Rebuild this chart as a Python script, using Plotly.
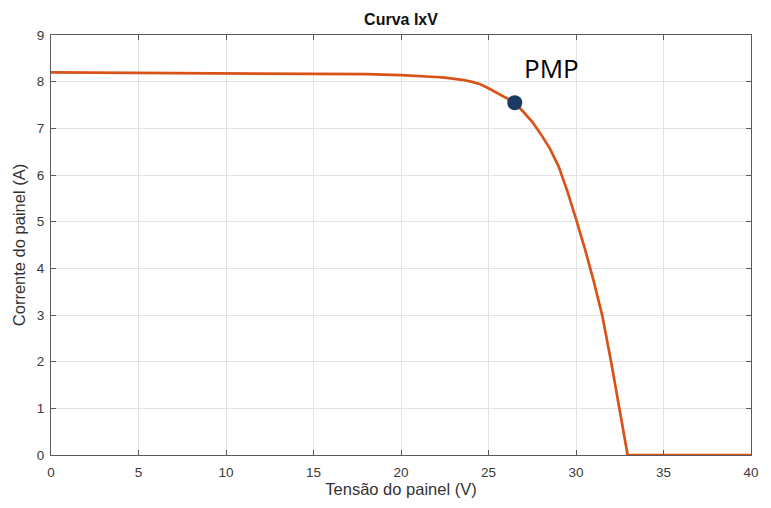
import plotly.graph_objects as go

voltage = [0, 5, 10, 15, 18, 20, 21, 22, 22.5, 23, 23.5, 24, 24.5, 25, 25.5, 26, 26.5, 27,
           27.5, 28, 28.5, 29, 29.5, 30, 30.5, 31, 31.5, 32, 32.5, 32.95, 35, 40]
current = [8.20, 8.19, 8.18, 8.17, 8.16, 8.14, 8.125, 8.10, 8.085, 8.065, 8.04, 8.00, 7.95,
           7.86, 7.76, 7.66, 7.55, 7.35, 7.14, 6.87, 6.57, 6.19, 5.66, 5.06, 4.43, 3.74,
           2.99, 2.01, 0.96, 0, 0, 0]
pmp_v = [26.5]
pmp_i = [7.55]
pmp_label = "PMP"

x_ticks = [0, 5, 10, 15, 20, 25, 30, 35, 40]
y_ticks = [0, 1, 2, 3, 4, 5, 6, 7, 8, 9]

fig = go.Figure()
fig.add_trace(go.Scatter(x=voltage, y=current, mode="lines",
                         line=dict(color="#D95319", width=2.7), showlegend=False,
                         hoverinfo="skip"))
fig.add_trace(go.Scatter(x=pmp_v, y=pmp_i, mode="markers",
                         marker=dict(color="#1B3A63", size=15), showlegend=False))
fig.add_annotation(x=pmp_v[0], y=pmp_i[0], text=pmp_label, showarrow=False,
                   xanchor="left", yanchor="bottom", xshift=7, yshift=15,
                   font=dict(family="Open Sans", size=26, color="#000000"))

axis_common = dict(showgrid=True, gridcolor="#E3E3E3", gridwidth=1,
                   showline=True, linecolor="#5A5A5A", linewidth=1.2, mirror="ticks",
                   ticks="inside", ticklen=5, tickcolor="#5A5A5A",
                   tickfont=dict(family="Liberation Sans", size=13.5, color="#3A3A3A"),
                   zeroline=False)

fig.update_layout(
    width=771, height=508,
    margin=dict(l=51, r=13, t=35, b=46),
    paper_bgcolor="white", plot_bgcolor="white",
    title=dict(text="<b>Curva IxV</b>", x=0.5, xref="paper", xanchor="center",
               y=1 - 19 / 508, yref="container", yanchor="middle",
               font=dict(family="Liberation Sans", size=16, color="#111111")),
    xaxis=dict(range=[0, 40], tickvals=x_ticks, ticklabelstandoff=5,
               title=dict(text="Tensão do painel (V)", standoff=4,
                          font=dict(family="Liberation Sans", size=16.5, color="#333333")),
               **axis_common),
    yaxis=dict(range=[0, 9], tickvals=y_ticks, ticklabelstandoff=3,
               title=dict(text="Corrente do painel (A)", standoff=6,
                          font=dict(family="Liberation Sans", size=16.5, color="#333333")),
               **axis_common),
)

fig.write_html("out.html", config={"displayModeBar": False},
               post_script="document.body.style.margin='0px';document.body.style.overflow='hidden';")
